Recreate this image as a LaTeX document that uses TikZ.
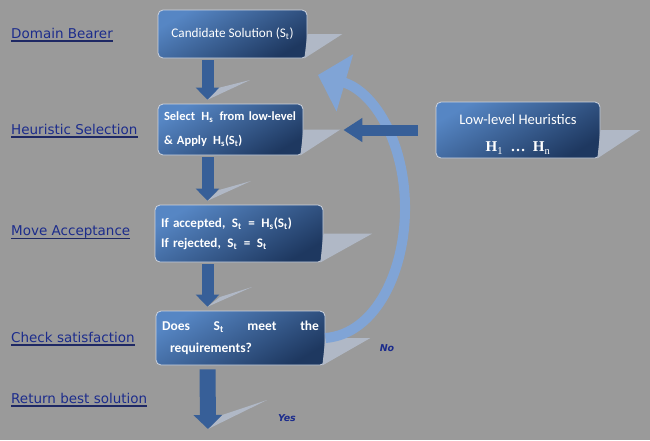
\documentclass[tikz,border=0pt]{standalone}
\usepackage{fontspec}
\setmainfont{Carlito}
\newfontfamily\labelfont{DejaVu Sans}
\newfontfamily\hfont{Liberation Serif}
\usetikzlibrary{positioning,arrows.meta,calc}
\definecolor{bggray}{RGB}{154,154,154}
\definecolor{boxlight}{RGB}{86,134,196}
\definecolor{boxdark}{RGB}{30,56,96}
\definecolor{boxedge}{RGB}{205,212,224}
\definecolor{shadowc}{RGB}{176,184,198}
\definecolor{arrowblue}{RGB}{55,95,152}
\definecolor{curveblue}{RGB}{128,164,214}
\definecolor{labelblue}{RGB}{28,44,140}
\definecolor{lineblue}{RGB}{30,40,100}

\begin{document}
\begin{tikzpicture}[x=1pt,y=-1pt,
  stepbox/.style={draw=boxedge, line width=0.8pt, rounded corners=5pt,
    top color=boxlight, bottom color=boxdark, shading angle=30,
    text=white, inner sep=6pt},
  boxshadow/.style={fill=shadowc},
  blockarrow/.style={draw=arrowblue, line width=12pt,
    -{Triangle[width=23pt,length=12pt]}, shorten <=2pt, shorten >=4pt},
  stagelabel/.style={anchor=west, inner sep=0pt, text=labelblue,
    font=\labelfont\fontsize{13.5}{15}\selectfont},
  answer/.style={text=labelblue, font=\labelfont\bfseries\itshape\fontsize{9.5}{11}\selectfont}]
\fill[bggray] (0,0) rectangle (650,440);

\node[stepbox, minimum width=149pt, minimum height=48pt,
  font=\fontsize{13.2}{16}\selectfont] (cand) at (232.5,34)
  {Candidate Solution (S\textsubscript{t})};
\node[stepbox, text width=133pt, minimum height=51pt, align=left,
  font=\bfseries\fontsize{12.5}{24}\selectfont] (sel) at (230.5,129.5)
  {Select\ \,H\textsubscript{s}\ \,from low-level\\ \& Apply\ \,H\textsubscript{s}(S\textsubscript{t})};
\node[stepbox, text width=156pt, minimum height=57pt, align=left,
  font=\bfseries\fontsize{13.1}{20}\selectfont] (acc) at (239,233.5)
  {If accepted,\ \,S\textsubscript{t}\ \,=\ \,H\textsubscript{s}(S\textsubscript{t})\\
   If rejected,\ \,S\textsubscript{t}\ \,=\ \,S\textsubscript{t}};
\node[stepbox, text width=157pt, minimum height=54pt, align=justify,
  font=\bfseries\fontsize{13.5}{22}\selectfont] (does) at (240.5,338)
  {Does S\textsubscript{t} meet the\linebreak\hspace*{8pt}requirements?};
\node[stepbox, minimum width=164pt, minimum height=56pt, align=center,
  text height=46pt, inner ysep=2pt,
  font=\fontsize{14.6}{27}\selectfont] (low) at (518,130)
  {Low-level Heuristics\\ {\hfont\bfseries\fontsize{15}{15}\selectfont H\textsubscript{\mdseries 1}\ \ \ldots\ \ H\textsubscript{\mdseries n}}};

\fill[boxshadow] (cand.east) -- ++(35,0) -- ([xshift=-3pt]cand.south east) -- cycle;
\fill[boxshadow] (sel.east) -- ++(37,0) -- ([xshift=-3pt]sel.south east) -- cycle;
\fill[boxshadow] (acc.east) -- ++(49,0) -- ([xshift=-3pt]acc.south east) -- cycle;
\fill[boxshadow] (does.east) -- ++(45,0) -- ([xshift=-3pt]does.south east) -- cycle;
\fill[boxshadow] (low.east) -- ++(40,0) -- ([xshift=-3pt]low.south east) -- cycle;
\foreach \x/\y/\a/\b/\c/\d in {207/100/11/-12/43/-20, 207/201/12/-11/44/-20,
  207/307/13/-10/45/-20, 208/429/14/-14/59/-29}
  \fill[boxshadow] (\x,\y) -- ++(\a,\b) -- (\x+\c,\y+\d) -- cycle;

\coordinate (spine) at (207.5,0);
\coordinate (backtip) at (318,75);
\coordinate (exit) at (208,429);

\draw[curveblue, line width=10pt, -{Triangle[width=58pt,length=28pt]}]
  (does.east) .. controls (376,334) and (406,270) .. (405,205)
  .. controls (404,140) and (373,91) .. (backtip);

\draw[blockarrow] (spine |- cand.south) -- (spine |- sel.north);
\draw[blockarrow] (spine |- sel.south) -- (spine |- acc.north);
\draw[blockarrow] (spine |- acc.south) -- (spine |- does.north);
\draw[blockarrow, line width=16pt, -{Triangle[width=28pt,length=14pt]},
  shorten >=0pt, shorten <=4pt] (spine |- does.south) -- (exit);
\draw[blockarrow, line width=11pt, -{Triangle[width=23pt,length=19pt]},
  shorten <=18pt, shorten >=40pt] (low.west) -- (low.west -| sel.east);

\foreach \t/\y [count=\i] in {Domain Bearer/33, Heuristic Selection/129,
  Move Acceptance/232, Check satisfaction/337, Return best solution/398} {
  \node[stagelabel] (stage\i) at (11,\y) {\t};
  \draw[lineblue, line width=1.2pt] ($(stage\i.base west)+(0,3)$) -- ($(stage\i.base east)+(0,3)$);
}
\node[answer] (no) at (387,348) {No};
\node[answer] (yes) at (287,418) {Yes};
\end{tikzpicture}
\end{document}
